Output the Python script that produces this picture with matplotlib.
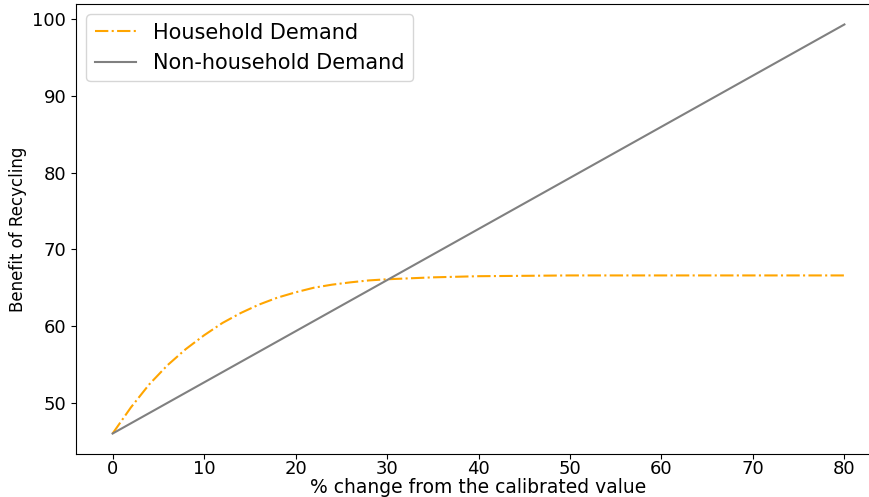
"""Benefit of recycling vs % change from the calibrated value."""
import matplotlib
matplotlib.use('Agg')
from matplotlib import pyplot

# % change from the calibrated value
pct_change = [0, 2, 4, 6, 8, 10, 12, 14, 16, 18, 20, 22, 24, 26, 28, 30,
              35, 40, 45, 50, 55, 60, 65, 70, 75, 80]
# household demand curve
household = [46.0, 49.4, 52.4, 54.9, 57.0, 58.8, 60.4, 61.7, 62.8, 63.7,
             64.4, 65.0, 65.4, 65.7, 65.95, 66.1, 66.35, 66.5, 66.55, 66.6,
             66.6, 66.6, 66.6, 66.6, 66.6, 66.6]
# non-household demand is a straight line
nonhousehold_x = [0, 80]
nonhousehold = [46.0, 99.3]

figure = pyplot.figure(figsize=(8.69, 4.97), dpi=100)
axes = figure.add_axes([76 / 869, 1 - 454 / 497, (881 - 76) / 869, (454 - 4) / 497])

axes.plot(pct_change, household, linestyle='-.', color='orange', linewidth=1.5,
          label='Household Demand')
axes.plot(nonhousehold_x, nonhousehold, color='grey', linewidth=1.5,
          label='Non-household Demand')

axes.set_xlabel('% change from the calibrated value', fontsize=13.5, labelpad=0)
axes.set_ylabel('Benefit of Recycling', fontsize=12)
axes.tick_params(labelsize=13)
axes.tick_params(axis='x', pad=1)
axes.set_xticks([0, 10, 20, 30, 40, 50, 60, 70, 80])
axes.set_yticks([50, 60, 70, 80, 90, 100])
axes.legend(loc='upper left', fontsize=15)

figure.savefig('out.png', dpi=100)
